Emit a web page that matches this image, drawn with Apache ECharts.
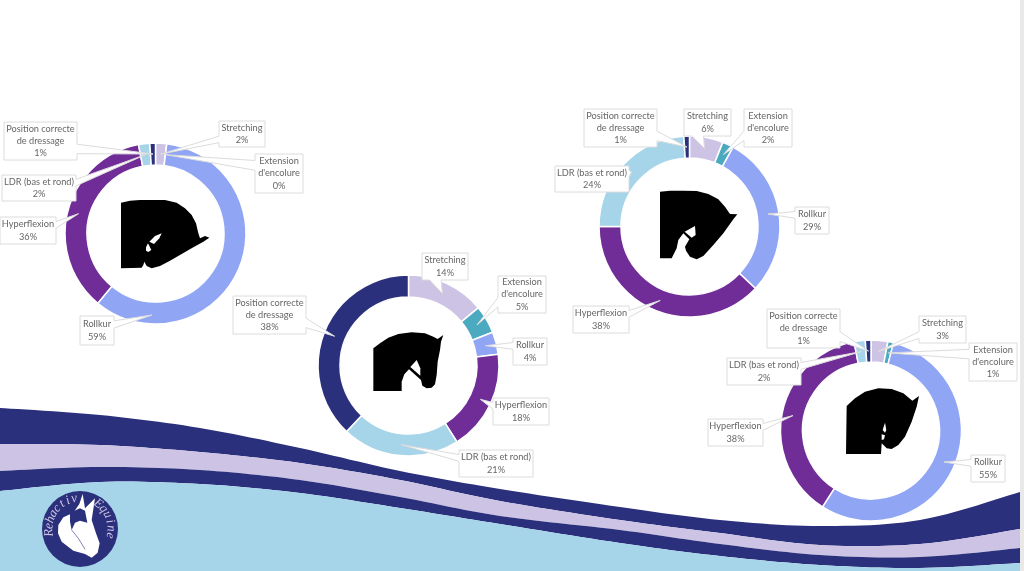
<!DOCTYPE html>
<html><head><meta charset="utf-8">
<style>html,body{margin:0;padding:0;background:#fff}#c{width:1024px;height:571px}</style>
<script src="https://cdn.jsdelivr.net/npm/echarts@6/dist/echarts.min.js"></script>
</head><body><div id="c"></div>
<script>
const categories = ['Stretching', "Extension\nd'encolure", 'Rollkur', 'Hyperflexion', 'LDR (bas et rond)', 'Position correcte\nde dressage'];
const colors = ['#CDC3E4', '#4BAABF', '#91A5F5', '#702C97', '#A6D5EA', '#2B307C'];
const valuesA = [2, 0, 59, 36, 2, 1];
const valuesB = [14, 5, 4, 18, 21, 38];
const valuesC = [6, 2, 29, 38, 24, 1];
const valuesD = [3, 1, 55, 38, 2, 1];
const centers = [[155.5, 233.5], [408.5, 365.5], [689.5, 226.5], [871, 430.5]];
const allValues = [valuesA, valuesB, valuesC, valuesD];
// label boxes [x0,y0,x1,y1], same order as categories
const boxes = [
  [[219,121,265,147],[255,154,303,193],[80,316,114,345],[0,217,56,244],[2,175,76,201],[4,122,77,160]],
  [[422,253,468,280],[498,276,546,313],[513,338,547,365],[493,398,549,425],[459,450,533,477],[233,296,306,334]],
  [[684,109,731,136],[744,109,792,147],[795,207,829,234],[573,306,629,333],[555,166,629,192],[584,109,657,147]],
  [[919,316,966,343],[969,343,1017,381],[971,455,1005,482],[708,419,763,446],[727,358,801,385],[767,309,840,348]]
];
const tipOverride = {'0-2': [152, 315]};
const waveX = [0,100,200,300,400,500,620,720,820,920,1020];
const waveTop = [408,415,428,448,471,489,507,520,526,520,492];
const lavTop = [444,445,452,463,480,501,520,533,545,544,529];
const lavBottom = [471,467,470,480,497,516,530,544,555,557,548];
const skyTop = [491,482,484,493,508,524,543,556,565,568,563];

function curve(ys){
  const pts=[];
  for(let i=0;i<waveX.length-1;i++){
    const p0=[waveX[Math.max(i-1,0)],ys[Math.max(i-1,0)]],p1=[waveX[i],ys[i]],p2=[waveX[i+1],ys[i+1]],p3=[waveX[Math.min(i+2,waveX.length-1)],ys[Math.min(i+2,waveX.length-1)]];
    for(let k=0;k<12;k++){
      const t=k/12,t2=t*t,t3=t2*t;
      const f=j=>0.5*((2*p1[j])+(-p0[j]+p2[j])*t+(2*p0[j]-5*p1[j]+4*p2[j]-p3[j])*t2+(-p0[j]+3*p1[j]-3*p2[j]+p3[j])*t3);
      pts.push([f(0),f(1)]);
    }
  }
  pts.push([waveX[waveX.length-1],ys[ys.length-1]]);
  return pts;
}
function band(top,bot){return top.concat(bot.slice().reverse());}
const bottomEdge=[[0,571],[1020,571]];
const curves=[curve(waveTop),curve(lavTop),curve(lavBottom),curve(skyTop)];
const g=[];
g.push({type:'rect',z:1,shape:{x:0,y:0,width:1024,height:571},style:{fill:'#fff'}});
g.push({type:'rect',z:1,shape:{x:1020,y:0,width:4,height:571},style:{fill:'#e9e9e9'}});
g.push({type:'polygon',z:1,shape:{points:band(curves[0],curves[1])},style:{fill:'#2B307C'}});
g.push({type:'polygon',z:1,shape:{points:band(curves[1],curves[2])},style:{fill:'#CDC3E4'}});
g.push({type:'polygon',z:1,shape:{points:band(curves[2],curves[3])},style:{fill:'#2B307C'}});
g.push({type:'polygon',z:1,shape:{points:band(curves[3],bottomEdge)},style:{fill:'#A6D5EA'}});

// logo
const map=(pts,ox,oy)=>pts.map(p=>[ox+p[0]/3,oy+p[1]/3]);
g.push({type:'circle',z:1,shape:{cx:80,cy:529,r:38},style:{fill:'#2B307C'}});
g.push({type:'polygon',z:1,shape:{points:map([[158,42],[148,72],[130,98],[100,112],[85,135],[84,160],[95,185],[130,212],[165,222],[185,233],[203,218],[209,190],[198,160],[185,120],[195,55],[165,85]],30,480)},style:{fill:'#fff'}});
g.push({type:'polygon',z:1,shape:{points:map([[120,98],[150,85],[165,92],[172,128],[150,122],[135,128],[125,150],[120,125]],30,480)},style:{fill:'#2B307C'}});
g.push({type:'polyline',z:1,shape:{points:map([[125,150],[145,175],[165,208]],30,480)},style:{stroke:'#2B307C',lineWidth:0.6,fill:'none'}});
const logoText=(s,a0,a1)=>[...s].forEach((ch,i)=>{
  const a=(a0+(a1-a0)*i/(s.length-1))*Math.PI/180;
  g.push({type:'text',z:2,x:80+31*Math.sin(a),y:529-31*Math.cos(a),rotation:-a,
    style:{text:ch,fill:'#CDC3E4',fontFamily:'Liberation Serif',fontStyle:'italic',fontSize:13,align:'center',verticalAlign:'middle'}});
});
logoText('Rehactiv',-97,-11);
logoText('Equine',36,102);

// horse heads
const horses=[
 {o:[110,190],b:[[33,38],[60,32],[90,30],[130,30],[165,30],[200,38],[225,55],[245,75],[258,100],[265,130],[270,145],[285,138],[298,143],[280,155],[250,172],[215,192],[180,212],[150,228],[125,235],[110,228],[103,215],[100,225],[95,233],[33,235]],
  w:[[[118,155],[135,138],[155,130],[148,145],[132,162]],[[108,172],[114,160],[124,180],[115,186],[108,182]]]},
 {o:[365,325],b:[[25,70],[45,55],[70,38],[100,27],[140,22],[180,25],[205,35],[218,42],[235,30],[228,50],[225,75],[218,110],[215,150],[210,178],[200,188],[185,190],[172,182],[168,165],[132,133],[118,148],[110,170],[110,198],[25,198]],
  w:[[[155,105],[136,126],[166,152],[166,130]]]},
 {o:[650,180],b:[[30,35],[60,32],[100,32],[140,33],[175,42],[205,58],[225,80],[240,102],[262,103],[250,118],[220,160],[190,195],[160,228],[140,238],[120,230],[108,212],[105,200],[118,178],[100,160],[85,180],[80,205],[65,235],[30,235]],
  w:[[[135,138],[104,155],[125,173],[137,165]]]},
 {o:[835,380],b:[[35,78],[60,55],[90,35],[130,25],[170,27],[205,40],[232,62],[252,48],[245,80],[230,125],[210,170],[190,195],[170,207],[155,205],[140,190],[138,222],[33,222]],
  w:[[[150,128],[143,150],[150,158],[154,150]],[[140,163],[150,166],[147,178],[140,180]]]}
];
horses.forEach(h=>{
  g.push({type:'polygon',z:4,shape:{points:map(h.b,h.o[0],h.o[1])},style:{fill:'#000'}});
  h.w.forEach(w=>g.push({type:'polygon',z:4,shape:{points:map(w,h.o[0],h.o[1])},style:{fill:'#fff'}}));
});

// Office-style wedge callouts
function callout(box,tip){
  const [x0,y0,x1,y1]=box,w=x1-x0,h=y1-y0,cx=(x0+x1)/2,cy=(y0+y1)/2;
  const dx=tip[0]-cx,dy=tip[1]-cy;
  const horiz=Math.abs(dx)*h>Math.abs(dy)*w;
  const pts=[];
  const along=(neg,len)=>neg?[2/12*len,5/12*len]:[7/12*len,10/12*len];
  const a=horiz?along(dy<0,h):along(dx<0,w);
  pts.push([x0,y0]);
  if(!horiz&&dy<0){pts.push([x0+a[0],y0],tip,[x0+a[1],y0]);}
  pts.push([x1,y0]);
  if(horiz&&dx>0){pts.push([x1,y0+a[0]],tip,[x1,y0+a[1]]);}
  pts.push([x1,y1]);
  if(!horiz&&dy>0){pts.push([x0+a[1],y1],tip,[x0+a[0],y1]);}
  pts.push([x0,y1]);
  if(horiz&&dx<0){pts.push([x0,y0+a[1]],tip,[x0,y0+a[0]]);}
  return pts;
}
const ringR=[68.5,90.5];
allValues.forEach((vals,c)=>{
  const total=vals.reduce((s,v)=>s+v,0);let acc=0;
  vals.forEach((v,i)=>{
    const mid=(acc+v/2)/total*2*Math.PI;acc+=v;
    const r=(ringR[0]+ringR[1])/2;
    const tip=tipOverride[c+'-'+i]||[centers[c][0]+r*Math.sin(mid),centers[c][1]-r*Math.cos(mid)];
    const b=boxes[c][i];
    const z=5+i;
    g.push({type:'polygon',z:z,shape:{points:callout(b,tip)},style:{fill:'#fff',stroke:'#dcdcdc',lineWidth:1}});
    g.push({type:'text',z:z,x:(b[0]+b[2])/2,y:(b[1]+b[3])/2,
      style:{text:categories[i]+'\n'+v+'%',fill:'#666',fontFamily:'Lato',fontSize:9.2,lineHeight:12.2,align:'center',verticalAlign:'middle'}});
  });
});

const chart=echarts.init(document.getElementById('c'),null,{renderer:'canvas'});
chart.setOption({
  animation:false,
  backgroundColor:'#fff',
  graphic:{elements:g},
  series:allValues.map((vals,c)=>({
    type:'pie',z:3,silent:true,center:centers[c],radius:ringR,startAngle:90,clockwise:true,
    label:{show:false},labelLine:{show:false},
    itemStyle:{borderColor:'#fff',borderWidth:1.5},
    data:vals.map((v,i)=>({name:categories[i].replace('\n',' '),value:v,itemStyle:{color:colors[i]}}))
  }))
});
</script></body></html>
